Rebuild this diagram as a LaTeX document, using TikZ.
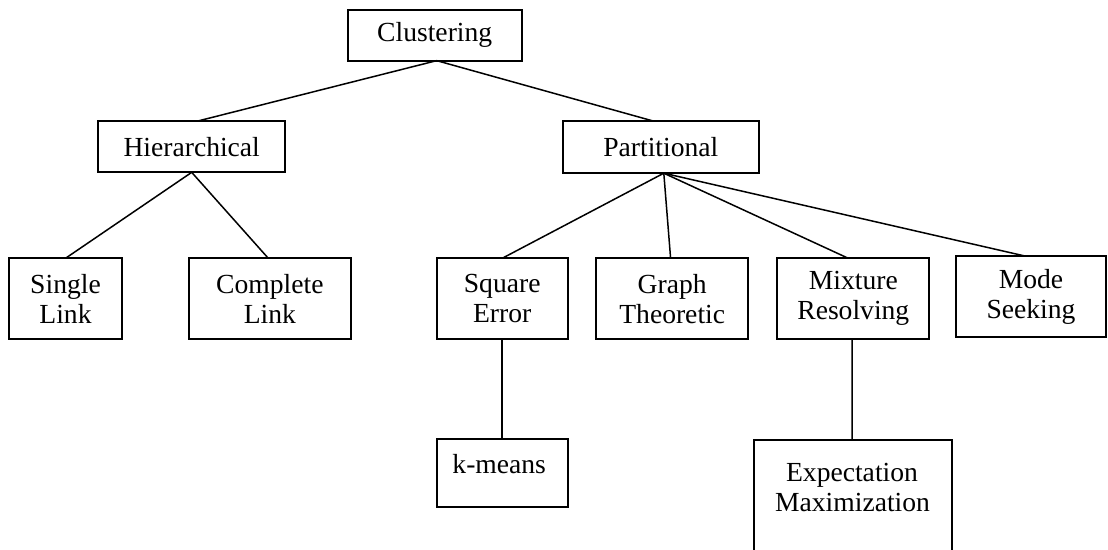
\documentclass[tikz,border=0pt]{standalone}
\usepackage{fontspec}
\setmainfont{Liberation Serif}
\begin{document}
\begin{tikzpicture}[x=0.5pt,y=-0.5pt,
  box/.style={draw=black, line width=0.95pt, fill=white, rectangle, inner sep=0pt, outer sep=0pt, align=center,
    font=\fontsize{13.8pt}{15pt}\selectfont},
  lbl/.style={inner sep=0pt, align=center, font=\fontsize{13.8pt}{15pt}\selectfont},
  conn/.style={draw=black, line width=0.75pt}]
\clip (0,0) rectangle (1108,550);
\fill[white] (0,0) rectangle (1108,550);
% level 0
\node[box, minimum width=87pt, minimum height=25.35pt] (clu) at (434.7,35.3) {Clustering};
% level 1
\node[box, minimum width=93.35pt, minimum height=25.65pt] (hier) at (191.7,146.7) {Hierarchical};
\node[box, minimum width=98.15pt, minimum height=26pt] (part) at (660.8,147.2) {Partitional};
% level 2
\node[box, minimum width=56.2pt, minimum height=40.5pt] (single) at (65.5,298.8) {Single\\Link};
\node[box, minimum width=80.85pt, minimum height=40.5pt] (complete) at (269.9,298.8) {Complete\\Link};
\node[box, minimum width=65.5pt, minimum height=40.5pt] (square) at (502.2,298.8) {Square\\Error};
\node[box, minimum width=76.15pt, minimum height=40.5pt] (graph) at (672.2,298.8) {Graph\\Theoretic};
\node[box, minimum width=76pt, minimum height=40.5pt] (mixture) at (853.3,298.8) {Mixture\\Resolving};
\node[box, minimum width=75pt, minimum height=40.65pt] (mode) at (1031,296.7) {Mode\\Seeking};
% level 3
\node[box, minimum width=65.5pt, minimum height=34pt] (km) at (502.2,473.3) {};
\node[lbl, anchor=base] (kmt) at (499.2,473.3) {k-means};
\node[box, minimum width=99.15pt, minimum height=60pt] (em) at (853.2,500) {};
\node[lbl, anchor=base] (emt1) at (852,481.7) {Expectation};
\node[lbl, anchor=base] (emt2) at (852.5,511.7) {Maximization};
% connectors
\draw[conn] ([xshift=1pt]clu.south) -- ([xshift=3pt]hier.north);
\draw[conn] ([xshift=1pt]clu.south) -- ([xshift=-3.5pt]part.north);
\draw[conn] (hier.south) -- (single.north);
\draw[conn] (hier.south) -- ([xshift=-0.8pt]complete.north);
\draw[conn] ([xshift=1.5pt]part.south) -- (square.north);
\draw[conn] ([xshift=1.5pt]part.south) -- ([xshift=-0.8pt]graph.north);
\draw[conn] ([xshift=1.5pt]part.south) -- ([xshift=-2.5pt]mixture.north);
\draw[conn] ([xshift=1.5pt]part.south) -- ([xshift=-3pt]mode.north);
\draw[conn] (square.south) -- (km.north);
\draw[conn] ([xshift=-0.6pt]mixture.south) -- ([xshift=-0.5pt]em.north);
\end{tikzpicture}
\end{document}
